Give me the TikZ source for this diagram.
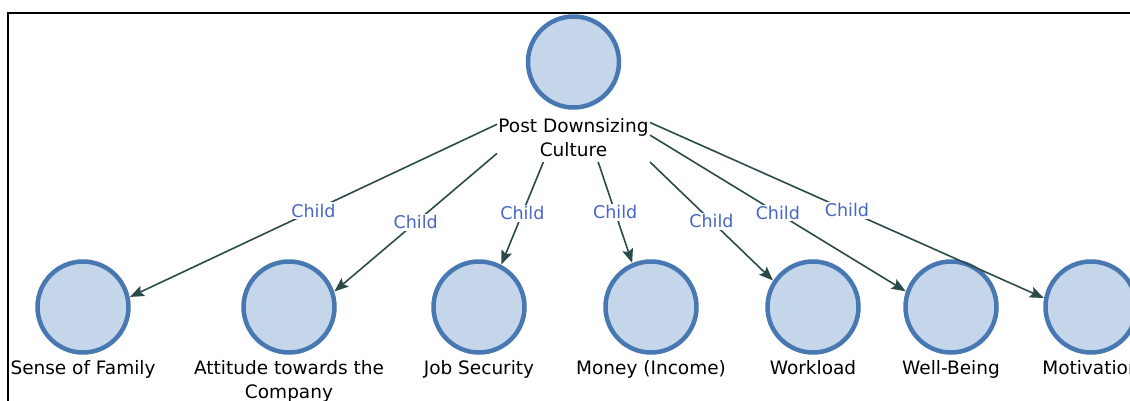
\documentclass[tikz,border=0pt]{standalone}
\usepackage{fontspec}
\setmainfont{DejaVu Sans}
\usetikzlibrary{arrows.meta,intersections,calc}
\definecolor{nodefill}{HTML}{C5D6EA}
\definecolor{nodeedge}{HTML}{4878B2}
\definecolor{edgecol}{HTML}{2C4A4A}
\definecolor{lblblue}{HTML}{4866C4}
\begin{document}
\begin{tikzpicture}[x=1pt,y=-1pt,
  concept/.style={circle, draw=nodeedge, fill=nodefill, line width=4.5pt, minimum size=91pt, inner sep=0pt},
  caption/.style={align=center, font=\fontsize{18.5}{24.5}\selectfont, text=black, inner sep=0pt, anchor=base},
  hitbox/.style={inner sep=0pt, outer sep=0pt, minimum width=153pt, minimum height=147pt},
  edge/.style={draw=edgecol, line width=1.6pt, -{Stealth[length=14pt,width=11pt,inset=2.5pt]}},
  childlbl/.style={fill=white, text=lblblue, inner sep=1.5pt, font=\fontsize{17.5}{20}\selectfont}
]
\useasboundingbox (0,0) rectangle (1130,400);
\clip (0,0) rectangle (1130,400);
\draw[line width=2pt, black] (8,12.8) rectangle (1200,460);

% top node
\node[concept] (top) at (573.5,62) {};
\node[caption] (toplbl) at (573.5,156.5) {Post Downsizing\\Culture};
\node[hitbox] (topbox) at (573.5,88.5) {};

% bottom nodes
\node[concept] (sf) at (83,307) {};
\node[caption] (sflbl) at (83,374) {Sense of Family};
\node[concept] (at) at (289,307) {};
\node[caption] (atlbl) at (289,398.5) {Attitude towards the\\Company};
\node[concept] (js) at (479,307) {};
\node[caption] (jslbl) at (479,374) {Job Security};
\node[concept] (mo) at (651,307) {};
\node[caption] (molbl) at (651,374) {Money (Income)};
\node[concept] (wl) at (813,307) {};
\node[caption] (wllbl) at (813,374) {Workload};
\node[concept] (wb) at (951,307) {};
\node[caption] (wblbl) at (951,374) {Well-Being};
\node[concept] (mv) at (1091,307) {};
\node[caption] (mvlbl) at (1091,374) {Motivation};

\coordinate (sfaim) at (83,319);
\coordinate (ataim) at (289,330);
\coordinate (jsaim) at (479,319);
\coordinate (moaim) at (651,319);
\coordinate (wlaim) at (813,319);
\coordinate (wbaim) at (951,319);
\coordinate (mvaim) at (1091,319);

% connectors
\path[name path=Lsf] (topbox.center) -- (sfaim);
\path[name path=Csf] (sf.center) circle[radius=48pt];
\path[name intersections={of=Lsf and Csf, by=sfend}];
\draw[edge] (topbox) -- (sfend) node[midway, childlbl] {Child};

\path[name path=Lat] (topbox.center) -- (ataim);
\path[name path=Cat] (at.center) circle[radius=48pt];
\path[name intersections={of=Lat and Cat, by=atend}];
\draw[edge] (topbox) -- (atend) node[midway, childlbl] {Child};

\path[name path=Ljs] (topbox.center) -- (jsaim);
\path[name path=Cjs] (js.center) circle[radius=48pt];
\path[name intersections={of=Ljs and Cjs, by=jsend}];
\draw[edge] (topbox) -- (jsend) node[midway, childlbl] {Child};

\path[name path=Lmo] (topbox.center) -- (moaim);
\path[name path=Cmo] (mo.center) circle[radius=48pt];
\path[name intersections={of=Lmo and Cmo, by=moend}];
\draw[edge] (topbox) -- (moend) node[midway, childlbl] {Child};

\path[name path=Lwl] (topbox.center) -- (wlaim);
\path[name path=Cwl] (wl.center) circle[radius=48pt];
\path[name intersections={of=Lwl and Cwl, by=wlend}];
\draw[edge] (topbox) -- (wlend) node[midway, childlbl] {Child};

\path[name path=Lwb] (topbox.center) -- (wbaim);
\path[name path=Cwb] (wb.center) circle[radius=48pt];
\path[name intersections={of=Lwb and Cwb, by=wbend}];
\draw[edge] (topbox) -- (wbend) node[midway, childlbl] {Child};

\path[name path=Lmv] (topbox.center) -- (mvaim);
\path[name path=Cmv] (mv.center) circle[radius=48pt];
\path[name intersections={of=Lmv and Cmv, by=mvend}];
\draw[edge] (topbox) -- (mvend) node[midway, childlbl] {Child};
\end{tikzpicture}
\end{document}
